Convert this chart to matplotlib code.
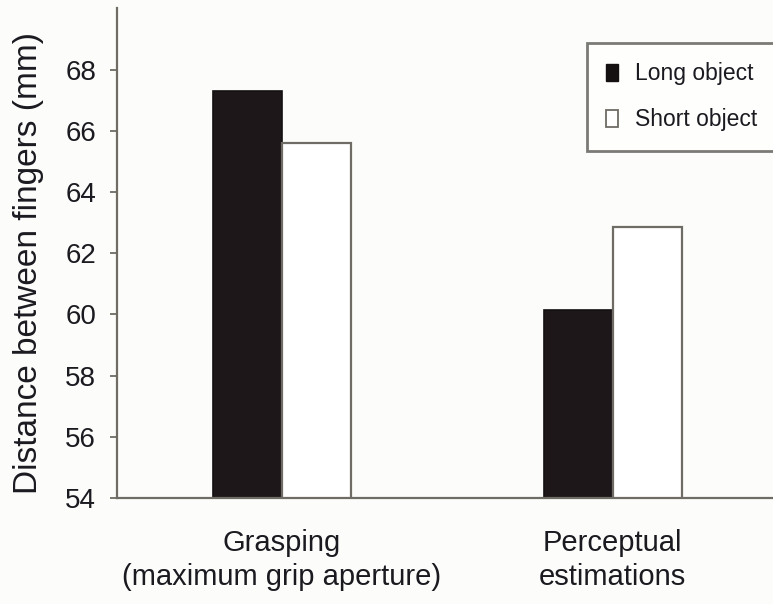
import numpy as np
import matplotlib
matplotlib.use("Agg")
import matplotlib.pyplot as plt
from matplotlib.patches import Patch

# values
groups = ["Grasping\n(maximum grip aperture)", "Perceptual\nestimations"]
long_object = [67.3, 60.15]
short_object = [65.6, 62.85]
series_labels = ["Long object", "Short object"]
y_ticks = [54, 56, 58, 60, 62, 64, 66, 68]

plt.rcParams['font.family'] = ['Liberation Sans', 'DejaVu Sans']

bg = '#fcfcfa'
ink = '#1a1a20'
edge = '#6e6c64'

fig = plt.figure(figsize=(7.73, 6.04), dpi=100, facecolor=bg)
ax = fig.add_axes([0.1514, 0.1755, 0.8486, 0.8106], facecolor=bg)

x = np.arange(len(groups))
w = 0.208
ax.bar(x - w / 2, long_object, w, color='#1e1719', edgecolor='#141012', linewidth=1.2)
ax.bar(x + w / 2, short_object, w, color='white', edgecolor=edge, linewidth=1.6)

ax.set_ylim(54, 70)
ax.set_xlim(-0.498, 1.484)
ax.set_yticks(y_ticks)
ax.set_xticks(x)
ax.set_xticklabels(groups, fontsize=21, color=ink, linespacing=1.3)
ax.tick_params(axis='x', length=0, pad=22)
ax.tick_params(axis='y', labelsize=20, labelcolor=ink, length=5, width=1.3,
               color=edge, pad=10)

for s in ['top', 'right']:
    ax.spines[s].set_visible(False)
for s in ['left', 'bottom']:
    ax.spines[s].set_color(edge)
    ax.spines[s].set_linewidth(1.6)

ax.set_ylabel("Distance between fingers (mm)", fontsize=24, color=ink)
ax.yaxis.set_label_coords(-0.112, 0.48)

handles = [Patch(facecolor='#141012', edgecolor='#141012', linewidth=1),
           Patch(facecolor='white', edgecolor=edge, linewidth=1.3)]
leg = fig.legend(handles, series_labels, loc='upper left',
                 bbox_to_anchor=(587 / 773, 1 - 43 / 604),
                 fontsize=16.5, frameon=True, fancybox=False,
                 handlelength=0.5, handleheight=0.8, handletextpad=0.75,
                 labelspacing=1.0, borderpad=0.85, borderaxespad=0)
leg.get_frame().set_edgecolor('#5a5954')
leg.get_frame().set_linewidth(2)
leg.get_frame().set_facecolor('white')
for t in leg.get_texts():
    t.set_color(ink)

fig.savefig("out.png", dpi=100, facecolor=bg)
